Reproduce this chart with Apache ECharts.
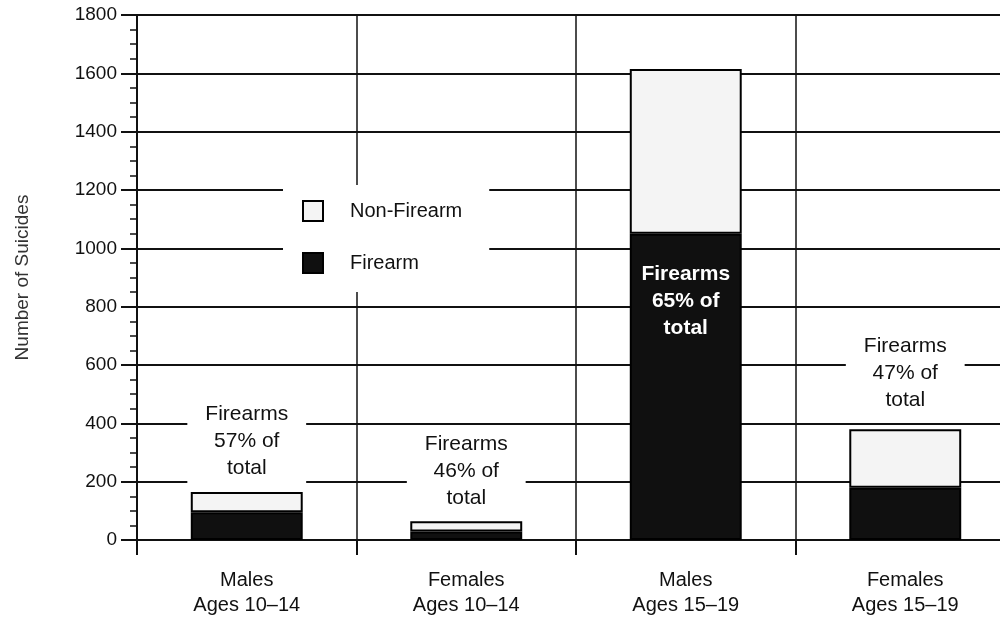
<!DOCTYPE html>
<html>
<head>
<meta charset="utf-8">
<script src="https://cdn.jsdelivr.net/npm/echarts@6/dist/echarts.min.js"></script>
<style>
  html, body { margin: 0; padding: 0; background: #fff; }
  #chart { width: 1000px; height: 620px; }
</style>
</head>
<body>
<div id="chart"></div>
<script>
// values
var categories = ['Males\nAges 10\u201314', 'Females\nAges 10\u201314', 'Males\nAges 15\u201319', 'Females\nAges 15\u201319']
var firearm = [95, 29, 1050, 179]
var nonFirearm = [70, 35, 565, 201]
var firearmPct = [57, 46, 65, 47]
var yMin = 0, yMax = 1800, yStep = 200

var FONT = '"Liberation Sans", Arial, sans-serif'
var INK = '#111'

function pctText(i){
    return 'Firearms\n' + firearmPct[i] + '% of\ntotal'
}

// label on top of the stack (white box hides the grid behind it)
var topLabels = [
    {padding: [4, 18, 8, 18], distance: 2},
    {padding: [2, 18, 8, 18], distance: 2},
    null,
    {padding: [4, 18, 2, 18], distance: 13}
]

var nonData = nonFirearm.map(function(v, i){
    var l = topLabels[i]
    if (!l) return {value: v, label: {show: false}}
    return {
        value: v,
        label: {
            show: true,
            position: 'top',
            distance: l.distance,
            padding: l.padding,
            backgroundColor: '#fff',
            formatter: pctText(i)
        }
    }
})

var fireData = firearm.map(function(v, i){
    if (i !== 2) return {value: v}
    return {
        value: v,
        label: {
            show: true,
            position: 'insideTop',
            distance: 27,
            color: '#fff',
            fontWeight: 'bold',
            formatter: pctText(i)
        }
    }
})

var myChart = echarts.init(document.getElementById('chart'))
var option = {
    backgroundColor: '#fff',
    animation: false,
    textStyle: {fontFamily: FONT},
    // plot runs past the right edge of the picture
    grid: {left: 137, top: 15, width: 878, bottom: 80, outerBoundsMode: 'none'},
    legend: {
        orient: 'vertical',
        left: 283,
        top: 185,
        backgroundColor: '#fff',
        padding: [15, 27, 18, 19],
        itemGap: 30,
        itemWidth: 20,
        itemHeight: 20,
        icon: 'rect',
        data: ['Non-Firearm', 'Firearm'],
        textStyle: {fontFamily: FONT, fontSize: 20, color: INK, padding: [0, 0, 0, 22]}
    },
    xAxis: {
        type: 'category',
        data: categories,
        axisLine: {lineStyle: {color: INK, width: 2}},
        axisTick: {show: true, length: 15, lineStyle: {color: INK, width: 2}},
        axisLabel: {
            color: INK, fontFamily: FONT, fontSize: 20, lineHeight: 25, margin: 28, interval: 0
        },
        splitLine: {show: true, lineStyle: {color: INK, width: 1.5}}
    },
    yAxis: {
        type: 'value',
        min: yMin,
        max: yMax,
        interval: yStep,
        name: 'Number of Suicides',
        nameLocation: 'middle',
        nameGap: 105,
        nameTextStyle: {color: '#333', fontFamily: FONT, fontSize: 19},
        axisLine: {show: true, lineStyle: {color: INK, width: 2}},
        axisTick: {show: true, length: 16, lineStyle: {color: INK, width: 2}},
        minorTick: {show: true, splitNumber: 4, length: 7, lineStyle: {color: INK, width: 1.5}},
        axisLabel: {
            color: INK, fontFamily: FONT, fontSize: 19, margin: 20,
            formatter: function(v){ return String(v) }
        },
        splitLine: {show: true, lineStyle: {color: INK, width: 2}}
    },
    series: [
        {
            name: 'Firearm',
            type: 'bar',
            stack: 'total',
            barWidth: '51%',
            data: fireData,
            itemStyle: {color: '#101010', borderColor: '#000', borderWidth: 2},
            label: {fontFamily: FONT, fontSize: 21, lineHeight: 27}
        },
        {
            name: 'Non-Firearm',
            type: 'bar',
            stack: 'total',
            barWidth: '51%',
            data: nonData,
            itemStyle: {color: '#f4f4f4', borderColor: '#000', borderWidth: 2},
            label: {fontFamily: FONT, fontSize: 21, lineHeight: 27, color: INK}
        }
    ]
}
myChart.setOption(option)
</script>
</body>
</html>
